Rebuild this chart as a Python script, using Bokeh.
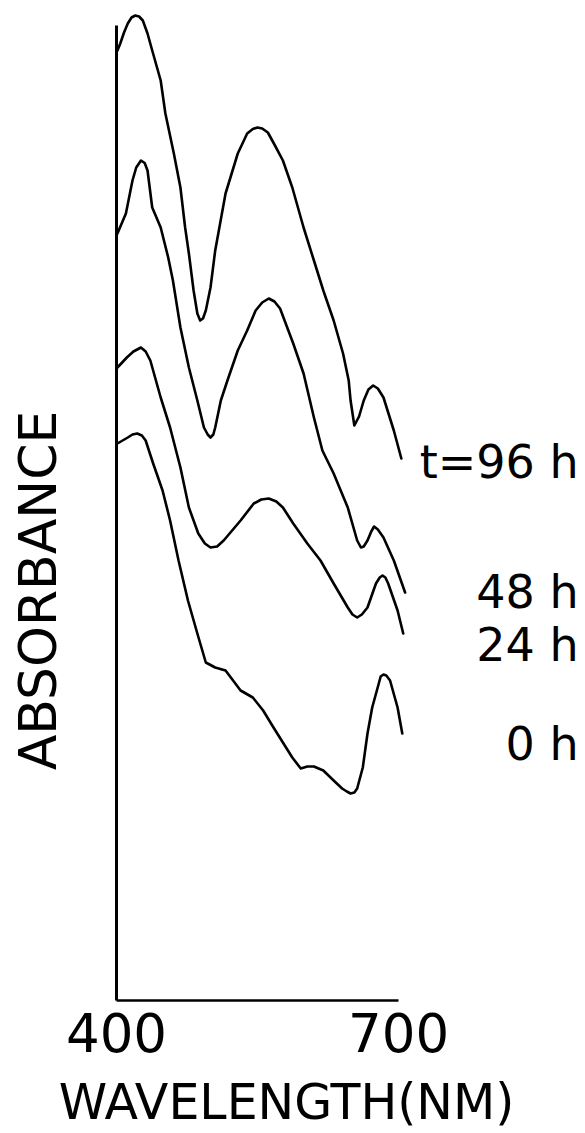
import math
from bokeh.plotting import figure
from bokeh.models import Range1d, FixedTicker
from bokeh.core.properties import value
from bokeh.embed import file_html
from bokeh.resources import INLINE

# Absorption spectra (wavelength in nm, absorbance in arbitrary units)
wl_96 = [401, 404, 408, 412, 416, 420, 424, 428, 433, 438, 447, 452, 461, 468, 473,
         477, 482, 486, 489, 492, 495, 500, 505, 516, 529, 539, 545, 550, 555, 561,
         568, 577, 587, 599, 610, 620, 631, 641, 647, 649, 653, 658, 663, 668, 673,
         678, 684, 695, 703]
abs_96 = [1.900, 1.914, 1.936, 1.954, 1.966, 1.970, 1.968, 1.960, 1.934, 1.900, 1.840,
          1.774, 1.694, 1.626, 1.546, 1.494, 1.420, 1.374, 1.360, 1.364, 1.380, 1.426,
          1.500, 1.614, 1.694, 1.734, 1.743, 1.746, 1.744, 1.736, 1.712, 1.680, 1.626,
          1.546, 1.480, 1.420, 1.360, 1.294, 1.240, 1.200, 1.150, 1.168, 1.200, 1.222,
          1.230, 1.224, 1.206, 1.140, 1.084]

wl_48 = [401, 410, 417, 421, 426, 430, 433, 438, 447, 455, 460, 468, 477, 486, 493,
         497, 500, 503, 505, 511, 518, 529, 539, 548, 555, 562, 568, 574, 588, 599,
         610, 619, 631, 646, 656, 660, 663, 667, 671, 674, 678, 684, 695, 707]
abs_48 = [1.534, 1.574, 1.640, 1.666, 1.680, 1.675, 1.660, 1.586, 1.546, 1.486, 1.440,
          1.346, 1.266, 1.200, 1.146, 1.132, 1.126, 1.132, 1.146, 1.200, 1.240, 1.300,
          1.340, 1.380, 1.396, 1.404, 1.398, 1.384, 1.314, 1.254, 1.166, 1.100, 1.054,
          0.986, 0.920, 0.906, 0.908, 0.920, 0.938, 0.948, 0.942, 0.926, 0.880, 0.816]

wl_24 = [401, 411, 418, 426, 431, 436, 447, 457, 468, 477, 487, 494, 500, 507, 514,
         532, 546, 554, 562, 570, 577, 588, 603, 617, 631, 646, 651, 656, 661, 667,
         676, 680, 683, 686, 689, 699, 705]
abs_24 = [1.266, 1.286, 1.298, 1.306, 1.298, 1.280, 1.206, 1.146, 1.066, 0.986, 0.934,
          0.914, 0.906, 0.908, 0.920, 0.960, 0.994, 1.002, 1.004, 0.998, 0.986, 0.954,
          0.914, 0.880, 0.834, 0.786, 0.772, 0.766, 0.772, 0.786, 0.834, 0.846, 0.850,
          0.846, 0.834, 0.780, 0.734]

wl_0 = [401, 412, 417, 422, 427, 431, 439, 449, 457, 466, 476, 486, 495, 505, 516,
        524, 532, 545, 556, 567, 577, 587, 596, 603, 610, 620, 631, 640, 645, 649,
        653, 656, 662, 667, 672, 679, 681, 684, 687, 691, 699, 704]
abs_0 = [1.114, 1.126, 1.132, 1.134, 1.130, 1.120, 1.074, 1.020, 0.960, 0.880, 0.800,
         0.734, 0.676, 0.666, 0.660, 0.640, 0.620, 0.606, 0.580, 0.546, 0.516, 0.486,
         0.464, 0.468, 0.468, 0.460, 0.440, 0.424, 0.418, 0.414, 0.416, 0.424, 0.466,
         0.534, 0.586, 0.634, 0.648, 0.652, 0.650, 0.640, 0.586, 0.534]

series_labels = ["t=96 h", "48 h", "24 h", "0 h"]
label_levels = [1.077, 0.818, 0.712, 0.514]
x_ticks = [400, 700]

FONT = "DejaVu Sans"

# frame covers the whole canvas; axes are pinned at wavelength 400 nm and absorbance 0
p = figure(width=585, height=1133, output_backend="svg", toolbar_location=None,
           title=None,
           x_range=Range1d(276.6, 898.9), y_range=Range1d(-0.266, 2.0),
           min_border_left=0, min_border_right=0, min_border_top=0,
           min_border_bottom=0)
p.grid.visible = False
p.outline_line_color = None
p.background_fill_color = "white"
p.border_fill_color = "white"

xa = p.xaxis[0]
xa.fixed_location = 0
xa.ticker = FixedTicker(ticks=x_ticks)
xa.bounds = (400, 700)
xa.major_tick_line_color = None
xa.minor_tick_line_color = None
xa.major_tick_out = 0
xa.major_tick_in = 0
xa.axis_line_width = 2.3
xa.axis_line_color = "black"
xa.major_label_text_font = FONT
xa.major_label_text_font_size = "53px"
xa.major_label_text_color = "black"
xa.major_label_standoff = 12

ya = p.yaxis[0]
ya.fixed_location = 400
ya.ticker = FixedTicker(ticks=[])
ya.bounds = (0, 1.95)
ya.major_tick_line_color = None
ya.minor_tick_line_color = None
ya.major_label_text_font_size = "0px"
ya.axis_line_width = 3
ya.axis_line_color = "black"

for wl, ab in [(wl_96, abs_96), (wl_48, abs_48), (wl_24, abs_24), (wl_0, abs_0)]:
    p.line(wl, ab, line_width=2.6, line_color="black", line_join="round", line_cap="round")

p.text(x=[891.5] * len(series_labels), y=label_levels, text=series_labels,
       text_align="right", text_baseline="middle",
       text_font=value(FONT), text_font_size="46px", text_color="black")

p.text(x=[316], y=[0.82], text=["ABSORBANCE"], angle=math.pi / 2,
       text_align="center", text_baseline="middle",
       text_font=value(FONT), text_font_size="52px", text_color="black")
p.text(x=[580.9], y=[-0.204], text=["WAVELENGTH(NM)"],
       text_align="center", text_baseline="middle",
       text_font=value(FONT), text_font_size="49px", text_color="black")

open("out.html", "w").write(file_html(p, INLINE))
